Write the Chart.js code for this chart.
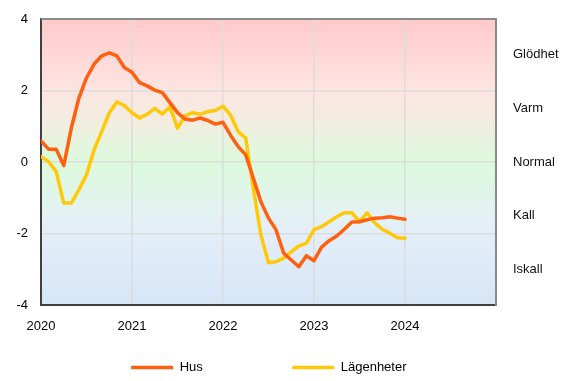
<!DOCTYPE html>
<html lang="sv">
<head>
<meta charset="UTF-8">
<title>Hus och lägenheter</title>
<script src="https://cdn.jsdelivr.net/npm/chart.js"></script>
<style>
  html, body { margin: 0; padding: 0; background: #fff; }
  #wrap { width: 581px; height: 381px; }
</style>
</head>
<body>
<div id="wrap"><canvas id="chart" width="581" height="381"></canvas></div>
<script>
// monthly values, Jan 2020 - Jan 2024
const startYear = 2020;
const hus = [
  0.59, 0.36, 0.36, -0.10, 0.95, 1.79, 2.35, 2.74, 2.97, 3.05, 2.97, 2.64,
  2.51, 2.22, 2.13, 2.01, 1.94, 1.66, 1.38, 1.20, 1.17, 1.23, 1.16, 1.06,
  1.11, 0.75, 0.43, 0.20, -0.45, -1.11, -1.57, -1.90, -2.55, -2.74, -2.93, -2.62,
  -2.76, -2.38, -2.20, -2.07, -1.88, -1.68, -1.67, -1.62, -1.57, -1.56, -1.53, -1.57,
  -1.60
];
const lagenheter = [
  0.15, 0.01, -0.27, -1.15, -1.15, -0.78, -0.36, 0.34, 0.85, 1.37, 1.68, 1.58,
  1.38, 1.23, 1.34, 1.50, 1.34, 1.54, 0.95, 1.29, 1.38, 1.34, 1.41, 1.44,
  1.56, 1.31, 0.85, 0.67, -0.75, -2.04, -2.82, -2.79, -2.69, -2.51, -2.35, -2.27,
  -1.89, -1.81, -1.67, -1.53, -1.42, -1.42, -1.67, -1.42, -1.70, -1.88, -1.99, -2.12,
  -2.13
];
const zoneValues = [-3, -1.5, 0, 1.5, 3];
const zoneLabels = ['Iskall', 'Kall', 'Normal', 'Varm', 'Glödhet'];

const toPoints = arr => arr.map((v, i) => ({ x: startYear + i / 12, y: v }));

const font = { family: 'Liberation Sans, Arial, sans-serif', size: 13 };

// gradient background + top frame line
const plotBackground = {
  id: 'plotBackground',
  beforeDraw(chart) {
    const { ctx, chartArea: a } = chart;
    const g = ctx.createLinearGradient(0, a.top, 0, a.bottom);
    g.addColorStop(0, '#ffcaca');
    g.addColorStop(0.25, '#fde5e2');
    g.addColorStop(0.37, '#f1eee0');
    g.addColorStop(0.5, '#dcfadc');
    g.addColorStop(0.68, '#e3f2f3');
    g.addColorStop(0.75, '#e3eef9');
    g.addColorStop(1, '#d6e6f7');
    ctx.save();
    ctx.fillStyle = g;
    ctx.fillRect(a.left, a.top, a.right - a.left, a.bottom - a.top);
    ctx.restore();
  },
  beforeDatasetsDraw(chart) {
    const { ctx, chartArea: a } = chart;
    ctx.save();
    ctx.strokeStyle = '#8a8a8a';
    ctx.lineWidth = 2;
    ctx.beginPath();
    ctx.moveTo(a.left, a.top);
    ctx.lineTo(a.right, a.top);
    ctx.stroke();
    ctx.restore();
  }
};

const legendGap = ['                      ', '            '];

new Chart(document.getElementById('chart'), {
  type: 'line',
  data: {
    datasets: [
      {
        label: 'Hus',
        data: toPoints(hus),
        borderColor: '#ff6010',
        backgroundColor: '#ff6010',
        borderWidth: 3.5,
        borderCapStyle: 'round',
        borderJoinStyle: 'round',
        pointRadius: 0,
        tension: 0
      },
      {
        label: 'Lägenheter',
        data: toPoints(lagenheter),
        borderColor: '#ffc90a',
        backgroundColor: '#ffc90a',
        borderWidth: 3.5,
        borderCapStyle: 'round',
        borderJoinStyle: 'round',
        pointRadius: 0,
        tension: 0
      }
    ]
  },
  options: {
    responsive: false,
    animation: false,
    layout: { padding: { top: 19, left: 0, right: 0, bottom: -3 } },
    plugins: {
      tooltip: { enabled: false },
      legend: {
        position: 'bottom',
        labels: {
          font: font,
          color: '#000',
          usePointStyle: true,
          pointStyle: 'line',
          pointStyleWidth: 42,
          padding: 10,
          generateLabels(chart) {
            const items = Chart.defaults.plugins.legend.labels.generateLabels(chart);
            items.forEach((it, i) => { it.text = it.text + legendGap[i]; it.lineWidth = 3.5; });
            return items;
          }
        }
      }
    },
    scales: {
      x: {
        type: 'linear',
        min: 2020,
        max: 2025,
        ticks: {
          stepSize: 1,
          autoSkip: false,
          maxRotation: 0,
          padding: 14,
          font: font,
          color: '#000',
          callback: v => (v === 2025 ? '' : String(v))
        },
        grid: { color: '#dcdcdc', lineWidth: 1.5, drawTicks: false },
        border: { color: '#404040', width: 2 },
        afterFit(axis) { axis.height = 46; }
      },
      y: {
        min: -4,
        max: 4,
        ticks: { stepSize: 2, padding: 13, font: font, color: '#000' },
        grid: { color: '#dcdcdc', lineWidth: 1.5, drawTicks: false },
        border: { color: '#404040', width: 2 },
        afterFit(axis) { axis.width = 41; axis.paddingTop = 0; axis.paddingBottom = 0; }
      },
      y2: {
        position: 'right',
        min: -4,
        max: 4,
        afterBuildTicks(axis) { axis.ticks = zoneValues.map(v => ({ value: v })); },
        ticks: {
          padding: 17,
          font: font,
          color: '#111',
          callback: v => zoneLabels[zoneValues.indexOf(v)]
        },
        grid: { display: false, drawTicks: false },
        border: { color: '#8a8a8a', width: 2 },
        afterFit(axis) { axis.width = 85; axis.paddingTop = 0; axis.paddingBottom = 0; }
      }
    }
  },
  plugins: [plotBackground]
});
</script>
</body>
</html>
